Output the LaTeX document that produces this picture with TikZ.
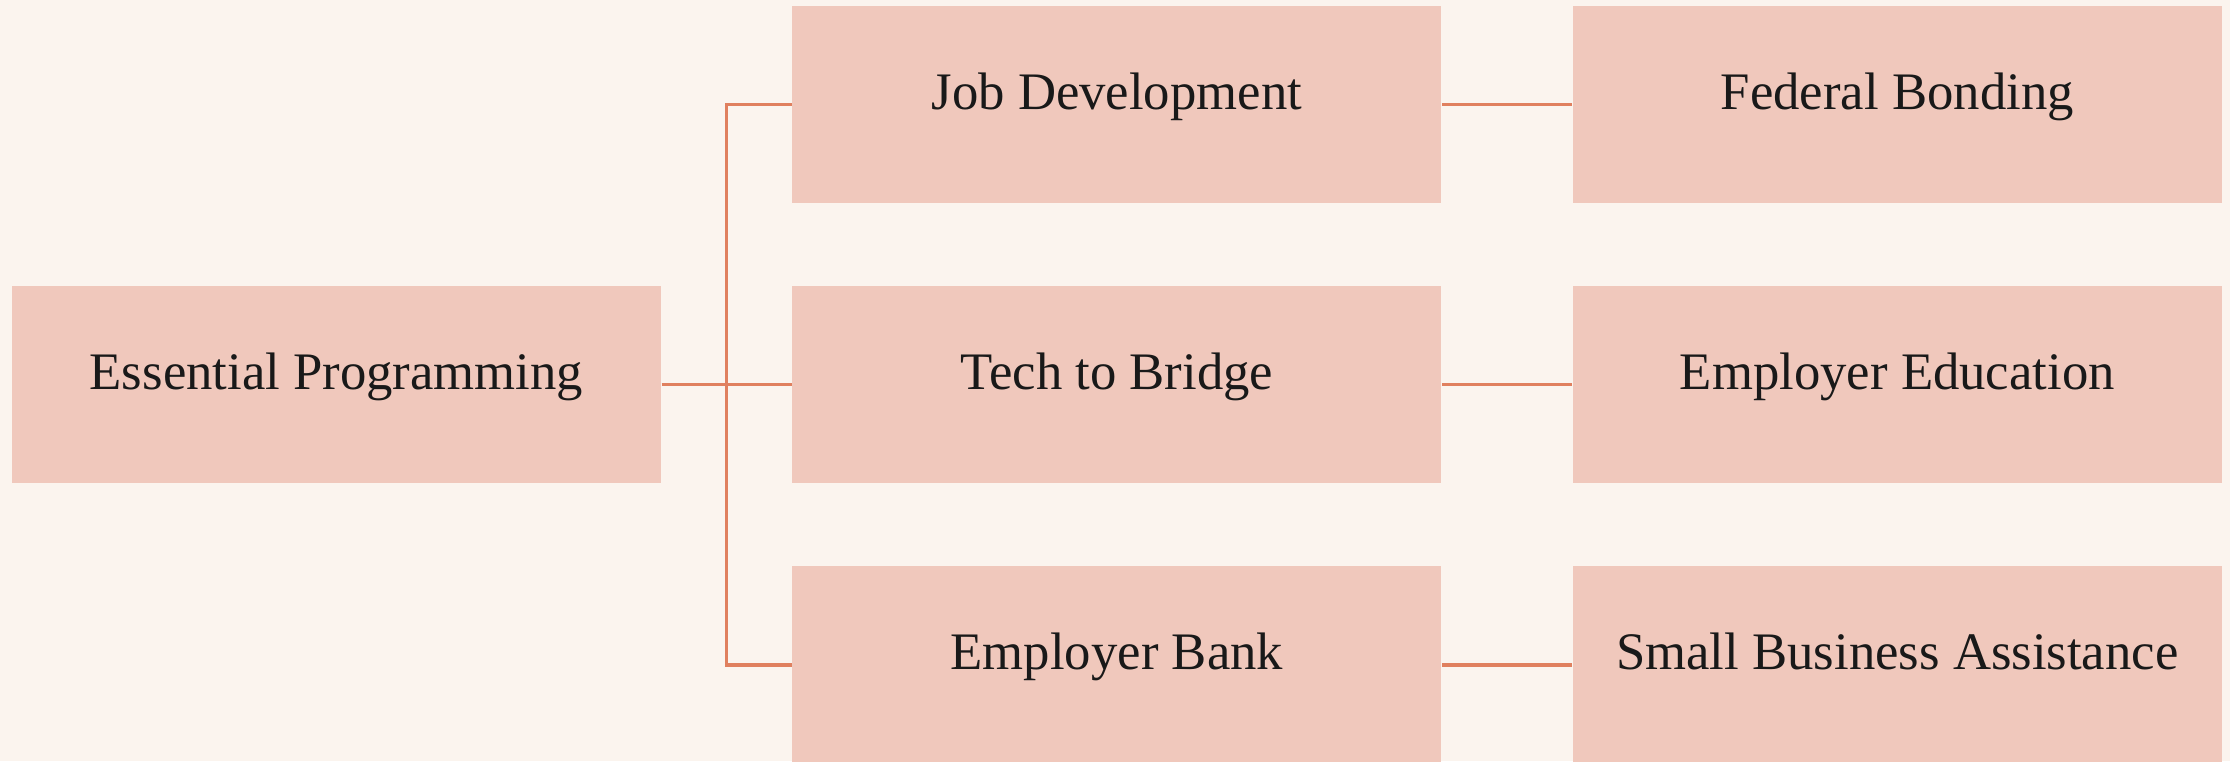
\documentclass[tikz,border=0pt]{standalone}
\usepackage{fontspec}
\setmainfont{Liberation Serif}
\usepackage{tikz}
\usetikzlibrary{positioning}
\definecolor{bgcream}{HTML}{FBF4EE}
\definecolor{boxpink}{HTML}{F0C8BC}
\definecolor{linkorange}{HTML}{E0805F}
\tikzset{
    %Define style for boxes
    program/.style={
           rectangle,
           fill=boxpink,
           minimum width=6.49cm,
           minimum height=1.97cm,
           inner sep=0pt,
           text height=0.7em,
           text depth=0.42em,
           font=\fontsize{15}{18}\selectfont,
           text=black!90,
           text centered,
           },
    % Define line style
    link/.style={
           draw=linkorange,
           line width=0.9pt,},
}

\begin{document}
\begin{tikzpicture}[node distance=0.82cm and 1.3cm, main node/.style={program}]

\fill[bgcream] (0,0) rectangle (22.30,-7.61);
\useasboundingbox (0,0) rectangle (22.30,-7.61);

 %nodes
\node[main node] (1) at (3.365,-3.845) {Essential Programming};
\node[main node, right=of 1] (2) {Tech to Bridge};
\node[main node, above=of 2] (3) {Job Development};
\node[main node, below=of 2] (4) {Employer Bank};
\node[main node, right=of 3] (5) {Federal Bonding};
\node[main node, right=of 2] (6) {Employer Education};
\node[main node, right=of 4] (7) {Small Business Assistance};

 %links
\draw[link] (1.east) -- ++(0.65,0) coordinate (fork);
\draw[link] (fork) |- (3.west);
\draw[link] (fork) |- (4.west);
\path[link]
    (fork) edge (2.west)
    (3) edge (5)
    (2) edge (6)
    (4) edge (7);

\end{tikzpicture}
\end{document}
